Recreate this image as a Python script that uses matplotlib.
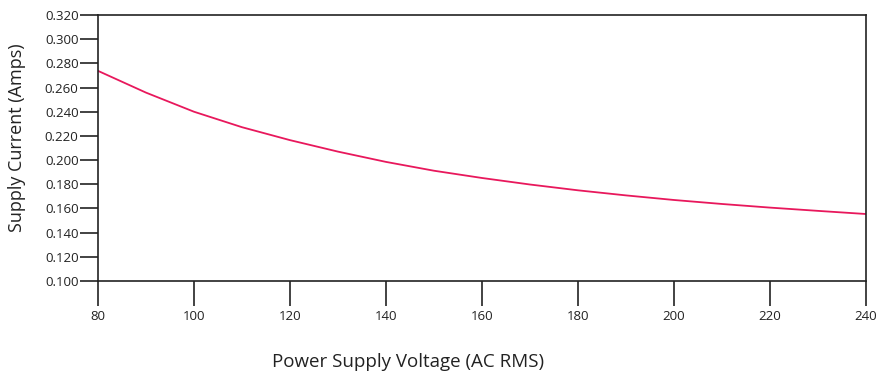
import matplotlib
matplotlib.use("Agg")
import matplotlib.pyplot as plt

plt.rcParams['font.family'] = ['Open Sans', 'DejaVu Sans']

voltage = [80, 90, 100, 110, 120, 130, 140, 150, 160, 170, 180, 190, 200, 210, 220, 230, 240]
current = [0.2738, 0.2558, 0.2400, 0.2272, 0.2165, 0.2070, 0.1985, 0.1912, 0.1852,
           0.1798, 0.1750, 0.1708, 0.1670, 0.1637, 0.1607, 0.1580, 0.1554]
x_ticks = [80, 100, 120, 140, 160, 180, 200, 220, 240]
y_ticks = [0.100, 0.120, 0.140, 0.160, 0.180, 0.200, 0.220, 0.240, 0.260, 0.280, 0.300, 0.320]

fig = plt.figure(figsize=(8.85, 3.77), dpi=100)
ax = fig.add_axes([98/885, 96/377, 768/885, 266/377])

ax.plot(voltage, current, color='#e8185c', lw=1.3, solid_joinstyle='round')

ax.set_xlim(80, 240)
ax.set_ylim(0.100, 0.320)
ax.set_xticks(x_ticks)
ax.set_xticklabels([str(v) for v in x_ticks])
ax.set_yticks(y_ticks)
ax.set_yticklabels([f"{v:.3f}" for v in y_ticks])

for s in ax.spines.values():
    s.set_linewidth(1.2)
    s.set_color('#222222')

ax.tick_params(axis='x', direction='out', length=18, width=1.2, pad=3,
               labelsize=9.5, colors='#222222')
ax.tick_params(axis='y', direction='out', length=13, width=1.2, pad=1,
               labelsize=9.5, colors='#222222')

ax.set_xlabel('Power Supply Voltage (AC RMS)', fontsize=13.5, color='#222222')
ax.xaxis.set_label_coords(0.4036, -0.272)
ax.set_ylabel('Supply Current (Amps)', fontsize=13, color='#222222')
ax.yaxis.set_label_coords(-0.094, 0.54)

fig.savefig('out.png', dpi=100)
